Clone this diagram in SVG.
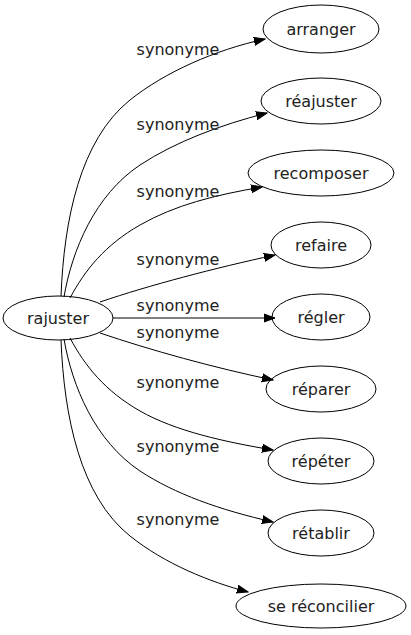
<svg xmlns="http://www.w3.org/2000/svg" width="411" height="635" viewBox="0 0 411 635">
<style>
.n ellipse{fill:none;stroke:#000;stroke-width:1}
text{font-family:"DejaVu Sans",sans-serif;font-size:16px;fill:#222;text-anchor:middle}
.e path{fill:none;stroke:#000;stroke-width:1;marker-end:url(#ah)}
</style>
<defs>
<marker id="ah" markerUnits="userSpaceOnUse" markerWidth="12" markerHeight="10" refX="11" refY="4" orient="auto" viewBox="0 0 12 8">
<path d="M0,0 L11,4 L0,8 Z" fill="#000" stroke="#000" stroke-width="1"/>
</marker>
</defs>
<rect width="411" height="635" fill="#fff"/>
<g id="edges" class="e">
<path d="M61,296 C64,220 80,140 130,100 C165,72 215,50 265,39"/>
<path d="M64,297 C72,250 95,195 140,165 C175,142 220,125 267,113"/>
<path d="M70,298 C85,270 105,245 140,225 C175,205 215,195 262,187"/>
<path d="M100,302 C150,285 215,268 275,255"/>
<path d="M113,318 L275,318"/>
<path d="M100,333 C150,350 215,368 273,380"/>
<path d="M70,338 C85,366 105,391 140,411 C175,431 225,442 273,450"/>
<path d="M64,339 C72,386 95,441 140,471 C175,494 220,510 273,522"/>
<path d="M61,340 C64,416 80,496 130,536 C165,564 210,582 248,592"/>
<text x="178" y="55">synonyme</text>
<text x="178" y="130">synonyme</text>
<text x="178" y="197">synonyme</text>
<text x="178" y="265">synonyme</text>
<text x="178" y="311">synonyme</text>
<text x="178" y="338">synonyme</text>
<text x="178" y="388">synonyme</text>
<text x="178" y="452">synonyme</text>
<text x="178" y="525">synonyme</text>
</g>
<g id="rajuster" class="n"><ellipse cx="58" cy="318" rx="55" ry="22"/><text x="58" y="324">rajuster</text></g>
<g id="arranger" class="n"><ellipse cx="321" cy="29" rx="58" ry="24"/><text x="321" y="35">arranger</text></g>
<g id="reajuster" class="n"><ellipse cx="321" cy="101" rx="60" ry="23"/><text x="321" y="107">réajuster</text></g>
<g id="recomposer" class="n"><ellipse cx="321" cy="173" rx="73" ry="23"/><text x="321" y="179">recomposer</text></g>
<g id="refaire" class="n"><ellipse cx="321" cy="245" rx="50" ry="23"/><text x="321" y="251">refaire</text></g>
<g id="regler" class="n"><ellipse cx="321" cy="317" rx="49" ry="23"/><text x="321" y="323">régler</text></g>
<g id="reparer" class="n"><ellipse cx="321" cy="389" rx="55" ry="23"/><text x="321" y="395">réparer</text></g>
<g id="repeter" class="n"><ellipse cx="321" cy="461" rx="53" ry="23"/><text x="321" y="467">répéter</text></g>
<g id="retablir" class="n"><ellipse cx="321" cy="533" rx="53" ry="23"/><text x="321" y="539">rétablir</text></g>
<g id="sereconcilier" class="n"><ellipse cx="321" cy="606" rx="85" ry="22"/><text x="321" y="612">se réconcilier</text></g>
</svg>
